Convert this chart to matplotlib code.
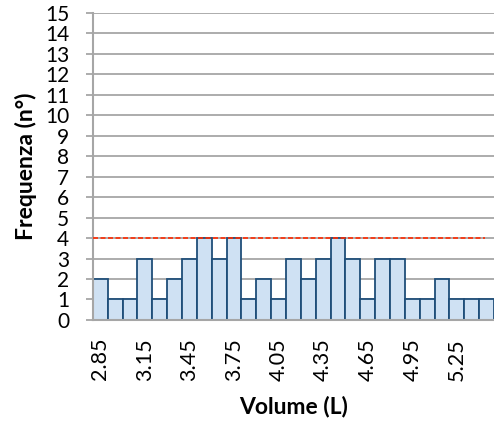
import matplotlib
matplotlib.use("Agg")
import matplotlib.pyplot as plt
import numpy as np

volumes = ["2.85","2.95","3.05","3.15","3.25","3.35","3.45","3.55","3.65","3.75",
           "3.85","3.95","4.05","4.15","4.25","4.35","4.45","4.55","4.65","4.75",
           "4.85","4.95","5.05","5.15","5.25","5.35","5.45"]
freq = [2,1,1,3,1,2,3,4,3,4,1,2,1,3,2,3,4,3,1,3,3,1,1,2,1,1,1]
threshold = 4
shown_labels = ["2.85","3.15","3.45","3.75","4.05","4.35","4.65","4.95","5.25"]

plt.rcParams['font.family'] = ['Lato', 'DejaVu Sans']

fig = plt.figure(figsize=(4.94, 4.26), dpi=100)
ax = fig.add_axes([0.188, 0.249, 0.812, 0.7205])

x = np.arange(len(freq))
ax.set_axisbelow(True)
ax.yaxis.grid(True, color='#a6a6a6', linewidth=1.3)
ax.bar(x, freq, width=1.0, color='#cfe1f3', edgecolor='#1f4e79', linewidth=1.3, zorder=2)
ax.axhline(threshold, xmin=0, xmax=0.978, color='#ff2a00', linestyle=(0, (3, 1.5)), linewidth=1.2, zorder=3)

ax.set_xlim(-0.5, len(freq) - 0.5)
ax.set_ylim(0, 15)
ax.set_yticks(range(0, 16))
pos = [volumes.index(v) for v in shown_labels]
ax.set_xticks(pos)
ax.set_xticklabels(shown_labels, rotation=90, fontsize=15.5)
ax.tick_params(axis='x', length=0, pad=13)
ax.tick_params(axis='y', length=5, width=1.3, color='#a6a6a6', labelsize=15, pad=12)

for s in ['top', 'right']:
    ax.spines[s].set_visible(False)
for s in ['left', 'bottom']:
    ax.spines[s].set_color('#a6a6a6')
    ax.spines[s].set_linewidth(1.5)

ax.set_xlabel("Volume (L)", fontsize=16.5, fontweight='bold', labelpad=11)
ax.set_ylabel("Frequenza (n°)", fontsize=16.5, fontweight='bold', labelpad=6)

fig.savefig("out.png", dpi=100)
